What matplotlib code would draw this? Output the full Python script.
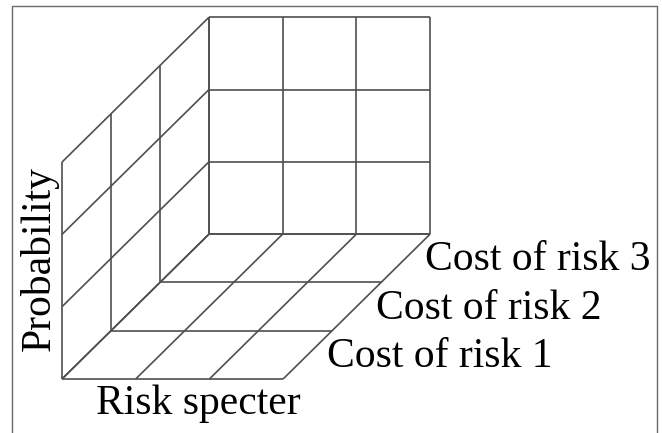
import numpy as np
import matplotlib
matplotlib.use("Agg")
import matplotlib.pyplot as plt

plt.rcParams['font.family'] = ['Liberation Serif', 'DejaVu Serif']

# grid structure: cells along each axis
n_risk = 3      # risk specter (left -> right)
n_cost = 3      # cost of risk (front -> back)
n_prob = 3      # probability (bottom -> top)

cost_labels = ["Cost of risk 1", "Cost of risk 2", "Cost of risk 3"]
x_label = "Risk specter"
z_label = "Probability"

# oblique projection (pixel space, y downward)
origin = (62, 379)
step_i = (73.7, 0.0)
step_j = (49.0, -48.3)
step_k = (0.0, -72.3)
line_col = "#4f4f4f"
lw = 1.2


def proj(i, j, k):
    x = origin[0] + i * step_i[0] + j * step_j[0] + k * step_k[0]
    y = origin[1] + i * step_i[1] + j * step_j[1] + k * step_k[1]
    return x, y


def seg(ax, p, q):
    a, b = proj(*p), proj(*q)
    ax.plot([a[0], b[0]], [a[1], b[1]], color=line_col, lw=lw,
            solid_capstyle="butt")


fig = plt.figure(figsize=(6.62, 4.33), dpi=100)
ax = fig.add_axes([0, 0, 1, 1])
ax.set_xlim(0, 662)
ax.set_ylim(433, 0)
ax.axis("off")

# outer frame
ax.plot([12, 12, 657, 657], [440, 6, 6, 440], color="#6a6a6a", lw=1.0)

# back wall (j = n_cost)
for i in range(n_risk + 1):
    seg(ax, (i, n_cost, 0), (i, n_cost, n_prob))
for k in range(n_prob + 1):
    seg(ax, (0, n_cost, k), (n_risk, n_cost, k))

# left wall (i = 0)
for j in range(n_cost + 1):
    seg(ax, (0, j, 0), (0, j, n_prob))
for k in range(n_prob + 1):
    seg(ax, (0, 0, k), (0, n_cost, k))

# floor (k = 0)
for i in range(n_risk + 1):
    seg(ax, (i, 0, 0), (i, n_cost, 0))
for j in range(n_cost + 1):
    seg(ax, (0, j, 0), (n_risk, j, 0))

fs = 30
# cost labels placed just right of the floor's right edge
for j, lab in enumerate(cost_labels):
    x, y = proj(n_risk, j + 0.5, 0)
    ax.text(x + 19, y + 12, lab, fontsize=fs, ha="left", va="baseline",
            color="black")

ax.text(96, 414, x_label, fontsize=fs, ha="left", va="baseline", color="black")
ax.text(39, 259, z_label, fontsize=fs, rotation=90, ha="center", va="center",
        color="black")

fig.savefig("out.png", dpi=100)
